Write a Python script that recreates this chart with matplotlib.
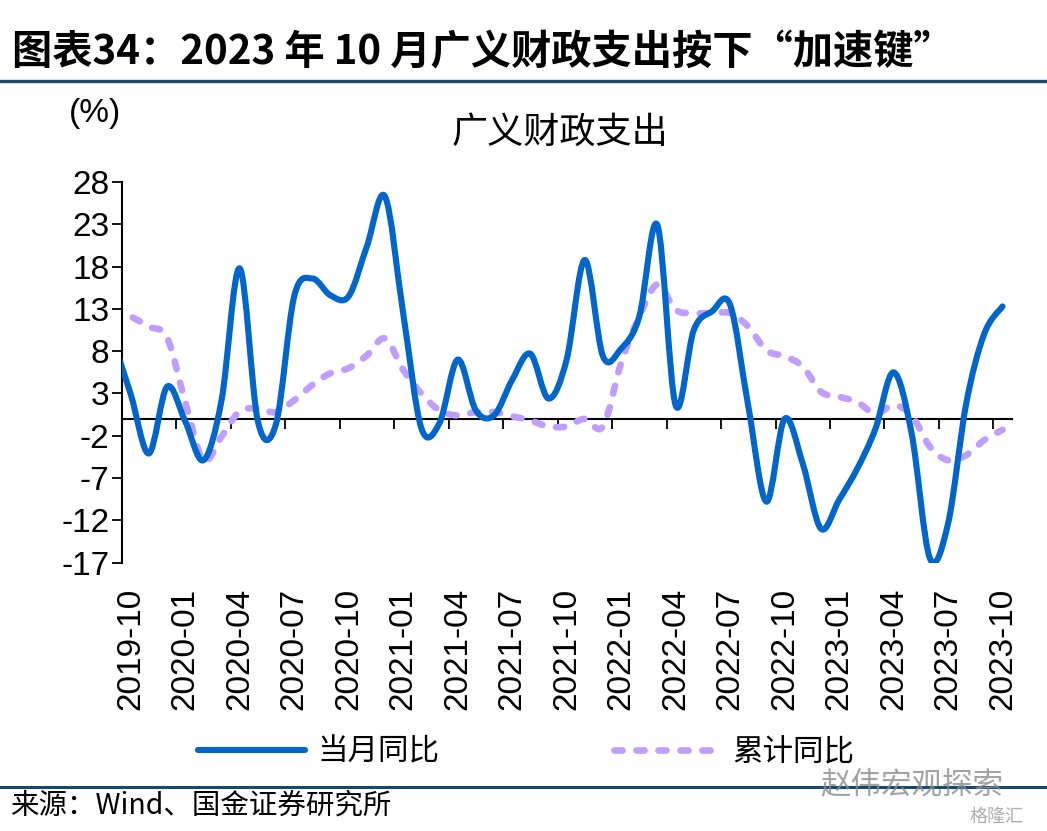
import matplotlib
matplotlib.use("Agg")
import matplotlib.pyplot as plt
from matplotlib.path import Path
from matplotlib.patches import PathPatch
from matplotlib.lines import Line2D
import numpy as np

### DATA ###

# monthly points 2019-09 .. 2023-10 (2019-09 sits left of the axis and gets clipped)
month_index = np.arange(-1, 49)

monthly_yoy = [9.5, 2.9, -4.1, 3.8, -0.3, -4.9, 2.2, 17.8, -0.3, -0.6,
               14.5, 16.6, 14.6, 14.5, 20.4, 26.3, 12.5, -1.1, -0.5, 7.0,
               1.0, 0.4, 4.6, 7.7, 2.4, 7.0, 18.8, 7.4, 8.3, 12.1,
               22.9, 1.6, 10.5, 12.7, 13.5, 1.5, -9.8, 0.0, -5.3, -13.0,
               -9.6, -5.9, -1.2, 5.5, -1.8, -16.5, -12.4, 1.8, 10.1, 13.3]  # 当月同比

cumulative_yoy = [13.0, 12.1, 10.9, 9.6, 2.0, -4.9, -2.1, 0.9, 1.2, 0.8,
                  2.2, 4.0, 5.4, 6.0, 7.5, 9.5, 5.8, 3.0, 1.0, 0.4,
                  0.8, 0.8, 0.3, -0.2, -0.9, -0.9, 0.0, -0.9, 6.6, 12.1,
                  15.9, 12.9, 12.5, 12.5, 12.5, 10.9, 8.1, 7.4, 6.2, 3.2,
                  2.6, 2.0, 0.6, 1.6, 0.4, -3.3, -4.9, -4.3, -2.5, -1.3]  # 累计同比

tick_labels = ["2019-10", "2020-01", "2020-04", "2020-07", "2020-10", "2021-01",
               "2021-04", "2021-07", "2021-10", "2022-01", "2022-04", "2022-07",
               "2022-10", "2023-01", "2023-04", "2023-07", "2023-10"]

y_ticks = [-17, -12, -7, -2, 3, 8, 13, 18, 23, 28]

### STYLE ###

plt.rcParams['font.family'] = ['Liberation Sans', 'Noto Sans CJK SC']
plt.rcParams['axes.unicode_minus'] = False
cjk = ['Noto Sans CJK SC', 'DejaVu Sans']

blue = "#0066CC"
purple = "#C09EFF"
rule_color = "#17496E"
dash = (0, (1.2, 2.1))

### FUNCTIONS ###

def smooth_path(xs, ys): # Excel-like smoothed line: cubic bezier through every point
    xs = np.asarray(xs, float)
    ys = np.asarray(ys, float)
    n = len(xs)
    verts = [(xs[0], ys[0])]
    codes = [Path.MOVETO]
    for i in range(n - 1):
        p0 = i - 1 if i > 0 else i
        p3 = i + 2 if i + 2 < n else i + 1
        c1 = (xs[i] + (xs[i + 1] - xs[p0]) / 6, ys[i] + (ys[i + 1] - ys[p0]) / 6)
        c2 = (xs[i + 1] - (xs[p3] - xs[i]) / 6, ys[i + 1] - (ys[p3] - ys[i]) / 6)
        verts += [c1, c2, (xs[i + 1], ys[i + 1])]
        codes += [Path.CURVE4] * 3
    return Path(verts, codes)

### FIGURE ###

fig = plt.figure(figsize=(10.47, 8.31), dpi=100)
ax = fig.add_axes([0.1162, 0.3231, 0.8500, 0.4577])

blue_patch = PathPatch(smooth_path(month_index, monthly_yoy), fill=False,
                       edgecolor=blue, lw=4.4, capstyle='round', joinstyle='round', zorder=3)
purple_patch = PathPatch(smooth_path(month_index, cumulative_yoy), fill=False,
                         edgecolor=purple, lw=4.8, linestyle=dash,
                         capstyle='round', joinstyle='round', zorder=2)
ax.add_patch(purple_patch)
ax.add_patch(blue_patch)

ax.set_xlim(-0.5, 48.5)
ax.set_ylim(-17, 28)

# axes: y on the left, x axis drawn at zero
for s in ["top", "right"]:
    ax.spines[s].set_visible(False)
ax.spines["left"].set_linewidth(1.5)
ax.spines["bottom"].set_position(("data", 0))
ax.spines["bottom"].set_linewidth(1.5)
ax.spines["bottom"].set_zorder(1)

ax.set_yticks(y_ticks)
ax.tick_params(axis="y", direction="out", length=7, width=1.3, labelsize=24, pad=2)

ax.set_xticks(np.arange(0, 49, 3) - 0.5)
ax.set_xticklabels([])
ax.tick_params(axis="x", direction="out", length=7, width=1.3)

# labels sit below the plot, not on the zero line
sec = ax.secondary_xaxis("bottom")
sec.set_xticks(np.arange(0, 49, 3))
sec.set_xticklabels(tick_labels, rotation=90, fontsize=24)
sec.tick_params(length=0, pad=18)
sec.spines["bottom"].set_visible(False)

### TEXTS ###

fig.text(0.0115, 0.936, "图表34：2023 年 10 月广义财政支出按下“加速键”", fontsize=29,
         fontweight="bold", family=cjk, va="center", ha="left")
fig.add_artist(Line2D([0, 1], [0.9025, 0.9025], transform=fig.transFigure, color=rule_color, lw=2.4))

fig.text(0.0907, 0.864, "(%)", fontsize=24, ha="center", va="center")
fig.text(0.535, 0.84, "广义财政支出", fontsize=26, family=cjk, ha="center", va="center")

handles = [Line2D([], [], color=blue, lw=4.4, solid_capstyle='round'),
           Line2D([], [], color=purple, lw=4.8, linestyle=dash, dash_capstyle='round')]
fig.legend(handles, ["当月同比", "累计同比"], loc="center", bbox_to_anchor=(0.503, 0.095),
           ncol=2, frameon=False, handlelength=3.5, handletextpad=0.4, columnspacing=5.7,
           prop={"family": cjk, "size": 22})

fig.add_artist(Line2D([0, 1], [0.053, 0.053], transform=fig.transFigure, color=rule_color, lw=2.2))
fig.text(0.0096, 0.0301, "来源：Wind、国金证券研究所", fontsize=20.5, family=cjk, ha="left", va="center")

# watermarks
fig.text(0.871, 0.0554, "赵伟宏观探索", fontsize=22, family=cjk, color="#8c8c8c", alpha=0.8,
         ha="center", va="center")
fig.text(0.952, 0.0168, "格隆汇", fontsize=13, family=cjk, color="#9a9a9a", alpha=0.8,
         ha="center", va="center")

fig.savefig("out.png", dpi=100)
